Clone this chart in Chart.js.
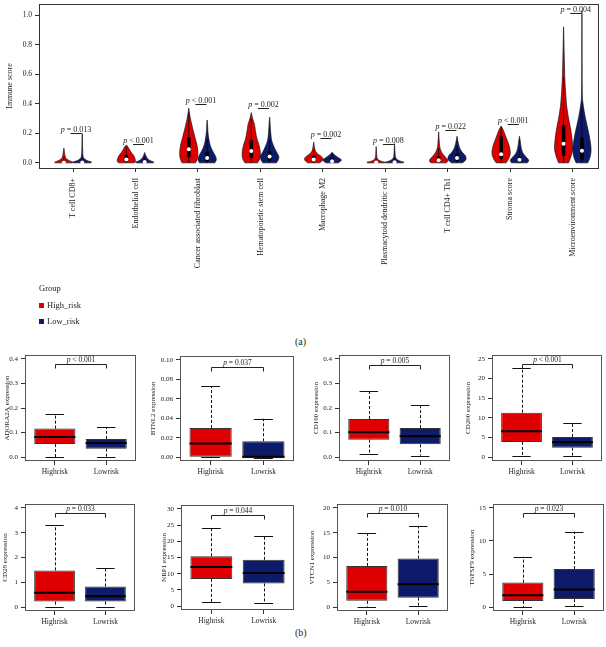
<!DOCTYPE html>
<html><head><meta charset="utf-8">
<script src="https://cdn.jsdelivr.net/npm/chart.js@4.4.1/dist/chart.umd.min.js"></script>
<style>
html,body{margin:0;padding:0;background:#fff;}
body{width:606px;height:647px;position:relative;overflow:hidden;font-family:'Liberation Serif','Times New Roman',serif;color:#222;}
canvas{position:absolute;}
.txt{position:absolute;white-space:nowrap;line-height:1;}
.sq{position:absolute;width:5px;height:5px;}
</style></head>
<body>
<canvas id="violin" width="606" height="285" style="left:0;top:0"></canvas>
<div class="txt" style="left:39px;top:284px;font-size:8.5px">Group</div>
<div class="sq" style="left:39px;top:303px;background:#DE0000"></div>
<div class="txt" style="left:47px;top:301px;font-size:8.5px">High_risk</div>
<div class="sq" style="left:39px;top:319px;background:#0E1B6B"></div>
<div class="txt" style="left:47px;top:317px;font-size:8.5px">Low_risk</div>
<div class="txt" style="left:295px;top:337px;font-size:10px">(a)</div>
<div class="txt" style="left:295px;top:628px;font-size:10px">(b)</div>
<script>
// ---------------- Panel (a) data ----------------
const categories = ['T cell CD8+','Endothelial cell','Cancer associated fibroblast','Hematopoietic stem cell','Macrophage M2','Plasmacytoid dendritic cell','T cell CD4+ Th1','Stroma score','Microenvironment score'];
const groups = ['High_risk','Low_risk'];
const yTicksA = [0,0.2,0.4,0.6,0.8,1.0];
// violin outlines: [immune score, relative half-width]
const highShapes = [
  [[0,0.9],[0.005,1],[0.015,0.6],[0.03,0.25],[0.05,0.12],[0.08,0.05],[0.10,0]],
  [[0,0.85],[0.01,1],[0.03,0.95],[0.05,0.8],[0.07,0.55],[0.09,0.35],[0.11,0.15],[0.12,0.02]],
  [[0,0.75],[0.03,0.95],[0.07,1],[0.12,0.9],[0.18,0.65],[0.24,0.4],[0.3,0.18],[0.34,0.07],[0.37,0]],
  [[0,0.7],[0.03,0.95],[0.07,1],[0.12,0.85],[0.17,0.6],[0.22,0.45],[0.26,0.35],[0.3,0.15],[0.34,0]],
  [[0,0.65],[0.015,0.95],[0.03,1],[0.045,0.8],[0.06,0.45],[0.08,0.2],[0.1,0.1],[0.14,0]],
  [[0,0.95],[0.004,1],[0.01,0.6],[0.02,0.25],[0.035,0.1],[0.06,0.05],[0.11,0]],
  [[0,0.85],[0.01,1],[0.025,0.95],[0.045,0.65],[0.07,0.35],[0.1,0.15],[0.14,0.07],[0.21,0]],
  [[0,0.55],[0.03,0.85],[0.06,1],[0.1,0.95],[0.14,0.75],[0.18,0.5],[0.22,0.25],[0.25,0]],
  [[0,0.55],[0.05,0.85],[0.1,1],[0.15,0.95],[0.22,0.8],[0.3,0.55],[0.38,0.35],[0.45,0.25],[0.55,0.15],[0.65,0.1],[0.78,0.05],[0.92,0]]
];
const lowShapes = [
  [[0,0.95],[0.006,1],[0.015,0.55],[0.03,0.2],[0.05,0.08],[0.1,0.04],[0.2,0]],
  [[0,0.9],[0.005,1],[0.015,0.6],[0.03,0.3],[0.05,0.12],[0.07,0]],
  [[0,0.85],[0.02,1],[0.04,0.95],[0.07,0.7],[0.1,0.45],[0.14,0.25],[0.2,0.1],[0.25,0.05],[0.29,0]],
  [[0,0.75],[0.02,0.95],[0.045,1],[0.08,0.7],[0.12,0.4],[0.16,0.2],[0.22,0.1],[0.27,0.05],[0.31,0]],
  [[0,0.7],[0.012,0.95],[0.022,1],[0.035,0.7],[0.05,0.35],[0.07,0]],
  [[0,0.95],[0.005,1],[0.012,0.6],[0.025,0.25],[0.04,0.1],[0.07,0.05],[0.13,0]],
  [[0,0.6],[0.015,0.9],[0.03,1],[0.05,0.9],[0.07,0.6],[0.1,0.3],[0.14,0.12],[0.18,0]],
  [[0,0.85],[0.01,1],[0.025,0.95],[0.045,0.65],[0.07,0.35],[0.1,0.2],[0.14,0.1],[0.18,0]],
  [[0,0.65],[0.04,0.9],[0.08,1],[0.13,0.95],[0.2,0.75],[0.27,0.5],[0.33,0.3],[0.4,0.12],[0.45,0.05],[0.55,0.02],[0.7,0.01],[1.03,0]]
];
const highQ1     = [0.0,0.008,0.04,0.035,0.012,0.0,0.008,0.03,0.05];
const highMedian = [0.003,0.022,0.092,0.08,0.022,0.003,0.018,0.058,0.129];
const highQ3     = [0.015,0.05,0.17,0.15,0.045,0.01,0.045,0.18,0.25];
const highTop    = [0.04,0.11,0.34,0.3,0.09,0.03,0.1,0.24,0.58];
const lowQ1      = [0.0,0.0,0.012,0.018,0.004,0.0,0.015,0.006,0.025];
const lowMedian  = [0.003,0.006,0.033,0.042,0.011,0.004,0.033,0.02,0.082];
const lowQ3      = [0.012,0.015,0.07,0.075,0.03,0.012,0.06,0.04,0.17];
const lowTop     = [0.03,0.04,0.16,0.16,0.07,0.03,0.12,0.09,0.38];
const pLabelsA   = ['p = 0.013','p < 0.001','p < 0.001','p = 0.002','p = 0.002','p = 0.008','p = 0.022','p < 0.001','p = 0.004'];
const pLineYA    = [0.205,0.125,0.395,0.37,0.17,0.13,0.225,0.265,1.015];

// ---------------- Panel (b) data ----------------
const boxGenes  = ['ADORA2A','BTNL2','CD160','CD200','CD28','NRP1','VTCN1','TNFSF9'];
const boxGroups = ['Highrisk','Lowrisk'];
// [lower whisker, Q1, median, Q3, upper whisker]
const boxHigh = [
  [0.0,0.053,0.082,0.116,0.175],
  [0.0,0.0003,0.014,0.0299,0.0728],
  [0.012,0.071,0.101,0.155,0.27],
  [0.35,3.85,6.6,11.3,22.8],
  [0.02,0.22,0.58,1.48,3.31],
  [1.2,8.4,12.1,15.4,24.1],
  [0.1,1.25,3.1,8.3,14.9],
  [0.0,0.93,1.8,3.7,7.6]
];
const boxLow = [
  [0.002,0.034,0.057,0.074,0.122],
  [-0.0012,-0.0012,0.0003,0.0163,0.0395],
  [0.006,0.052,0.085,0.118,0.213],
  [0.27,2.4,3.75,5.1,8.8],
  [0.02,0.22,0.44,0.83,1.56],
  [1.0,7.0,10.2,14.3,21.7],
  [0.15,1.9,4.6,9.8,16.4],
  [0.15,1.2,2.65,5.75,11.4]
];
const boxYTicks = [
  [0,0.1,0.2,0.3,0.4],
  [0,0.02,0.04,0.06,0.08,0.10],
  [0,0.1,0.2,0.3,0.4],
  [0,5,10,15,20,25],
  [0,1,2,3,4],
  [0,5,10,15,20,25,30],
  [0,5,10,15,20],
  [0,5,10,15]
];
const boxDecimals = [1,2,1,0,0,0,0,0];
const boxPLabels = ['p < 0.001','p = 0.037','p = 0.005','p < 0.001','p = 0.033','p = 0.044','p = 0.010','p = 0.023'];
const boxPY = [0.38,0.093,0.376,23.6,3.78,28.2,19.0,14.25];

// ---------------- styling / layout ----------------
const RED = '#DE0000', BLUE = '#0E1B6B';
const SERIF = "'Liberation Serif','Times New Roman',serif";
const INK = '#222';
const boxFrames = [
  {l:25,t:355,r:136,b:461,tx:7.5},
  {l:180,t:356,r:294,b:461,tx:153},
  {l:339,t:355,r:450,b:461,tx:316},
  {l:492,t:355,r:602,b:461,tx:468},
  {l:25,t:504,r:135,b:611,tx:5.5},
  {l:181,t:505,r:294,b:610,tx:164},
  {l:337,t:504,r:448,b:611,tx:312},
  {l:493,t:504,r:604,b:611,tx:472}
];
const noPad = s => { s.paddingTop = 0; s.paddingBottom = 0; s.paddingLeft = 0; s.paddingRight = 0; };

function drawPText(ctx, label, cx, baseY, size) {
  const rest = label.slice(1);
  ctx.font = 'italic ' + size + 'px ' + SERIF;
  const w1 = ctx.measureText('p').width;
  ctx.font = size + 'px ' + SERIF;
  const w2 = ctx.measureText(rest).width;
  let x0 = cx - (w1 + w2) / 2;
  ctx.fillStyle = INK;
  ctx.textAlign = 'left';
  ctx.textBaseline = 'alphabetic';
  ctx.font = 'italic ' + size + 'px ' + SERIF;
  ctx.fillText('p', x0, baseY);
  ctx.font = size + 'px ' + SERIF;
  ctx.fillText(rest, x0 + w1, baseY);
}

function smoothShape(shape) {
  const out = [], n = shape.length;
  for (let i = 0; i < n - 1; i++) {
    const p0 = shape[Math.max(i-1,0)], p1 = shape[i], p2 = shape[i+1], p3 = shape[Math.min(i+2,n-1)];
    for (let s = 0; s < 8; s++) {
      const t = s/8, t2 = t*t, t3 = t2*t;
      const f = (a,b,c,d) => 0.5*((2*b)+(-a+c)*t+(2*a-5*b+4*c-d)*t2+(-a+3*b-3*c+d)*t3);
      out.push([f(p0[0],p1[0],p2[0],p3[0]), Math.max(0, f(p0[1],p1[1],p2[1],p3[1]))]);
    }
  }
  out.push(shape[n-1]);
  return out;
}

const DODGE = 0.147, HALFW = 0.145;

const violinPlugin = {
  id: 'violins',
  beforeDatasetsDraw(chart) {
    const {ctx, scales: {x, y}} = chart;
    ctx.save();
    const drawViolin = (shape, cx, color) => {
      const pts = smoothShape(shape);
      ctx.beginPath();
      pts.forEach(([v, w], k) => {
        const px = x.getPixelForValue(cx + w*HALFW), py = y.getPixelForValue(v);
        k ? ctx.lineTo(px, py) : ctx.moveTo(px, py);
      });
      for (let k = pts.length - 1; k >= 0; k--) {
        const [v, w] = pts[k];
        ctx.lineTo(x.getPixelForValue(cx - w*HALFW), y.getPixelForValue(v));
      }
      ctx.closePath();
      ctx.fillStyle = color; ctx.fill();
      ctx.lineWidth = 0.7; ctx.strokeStyle = '#111'; ctx.stroke();
    };
    const drawWhisker = (cx, lo, hi) => {
      ctx.beginPath();
      ctx.moveTo(x.getPixelForValue(cx), y.getPixelForValue(lo));
      ctx.lineTo(x.getPixelForValue(cx), y.getPixelForValue(hi));
      ctx.lineWidth = 0.8; ctx.strokeStyle = '#000'; ctx.stroke();
    };
    categories.forEach((c, i) => {
      drawViolin(highShapes[i], i - DODGE, RED);
      drawViolin(lowShapes[i], i + DODGE, BLUE);
      drawWhisker(i - DODGE, highShapes[i][0][0], highTop[i]);
      drawWhisker(i + DODGE, lowShapes[i][0][0], lowTop[i]);
    });
    ctx.restore();
  },
  afterDatasetsDraw(chart) {
    const {ctx, chartArea: a, scales: {x, y}} = chart;
    ctx.save();
    categories.forEach((c, i) => {
      const cx = x.getPixelForValue(i) + 3;
      const ly = Math.round(y.getPixelForValue(pLineYA[i])) + 0.5;
      ctx.beginPath();
      ctx.moveTo(cx - 5.5, ly); ctx.lineTo(cx + 5.5, ly);
      ctx.lineWidth = 1; ctx.strokeStyle = '#222'; ctx.stroke();
      drawPText(ctx, pLabelsA[i], cx, ly - 1.5, 8);
    });
    ctx.lineWidth = 1; ctx.strokeStyle = '#333';
    ctx.strokeRect(Math.round(a.left) + 0.5, Math.round(a.top) + 0.5, Math.round(a.right - a.left) - 1, Math.round(a.bottom - a.top));
    ctx.restore();
  }
};

new Chart(document.getElementById('violin'), {
  type: 'bar',
  data: {
    datasets: [
      { type: 'scatter', label: groups[0] + ' median', data: categories.map((c,i) => ({x: i - DODGE, y: highMedian[i]})),
        pointRadius: 2, pointBackgroundColor: '#fff', pointBorderWidth: 0, order: 0 },
      { type: 'scatter', label: groups[1] + ' median', data: categories.map((c,i) => ({x: i + DODGE, y: lowMedian[i]})),
        pointRadius: 2, pointBackgroundColor: '#fff', pointBorderWidth: 0, order: 0 },
      { type: 'bar', label: groups[0], data: categories.map((c,i) => ({x: i - DODGE, y: [highQ1[i], highQ3[i]]})),
        backgroundColor: '#000', barThickness: 3, grouped: false, borderWidth: 0, order: 1 },
      { type: 'bar', label: groups[1], data: categories.map((c,i) => ({x: i + DODGE, y: [lowQ1[i], lowQ3[i]]})),
        backgroundColor: '#000', barThickness: 3, grouped: false, borderWidth: 0, order: 1 }
    ]
  },
  options: {
    responsive: false, animation: false, events: [],
    layout: { padding: { top: 1, right: 7, left: 0, bottom: 0 } },
    plugins: { legend: { display: false }, tooltip: { enabled: false } },
    scales: {
      x: {
        type: 'linear', min: -0.545, max: 8.42, offset: false,
        afterBuildTicks: s => { s.ticks = categories.map((c,i) => ({ value: i })); },
        afterFit: s => { s.height = 117; noPad(s); },
        grid: { display: true, offset: false, drawOnChartArea: false, drawTicks: true, tickLength: 4, color: '#333' },
        border: { display: false },
        ticks: { autoSkip: false, minRotation: 90, maxRotation: 90, padding: 6, color: INK,
                 font: { family: SERIF, size: 8 }, callback: v => categories[v] }
      },
      y: {
        type: 'linear', min: -0.035, max: 1.075,
        afterBuildTicks: s => { s.ticks = yTicksA.map(v => ({ value: v })); },
        afterFit: s => { s.width = 39; noPad(s); },
        grid: { display: true, drawOnChartArea: false, drawTicks: true, tickLength: 4, color: '#333' },
        border: { display: false },
        ticks: { padding: 3, color: INK, font: { family: SERIF, size: 7.5 }, callback: v => v.toFixed(1) },
        title: { display: true, text: 'Immune score', color: INK, font: { family: SERIF, size: 8 }, padding: { top: 5, bottom: 0 } }
      }
    }
  },
  plugins: [violinPlugin]
});

// ---------------- Panel (b) box plots ----------------
const boxPlugin = {
  id: 'boxparts',
  afterDatasetsDraw(chart) {
    const {ctx, chartArea: a, scales: {x, y}} = chart;
    const gi = chart.options.plugins.boxparts.index;
    ctx.save();
    [boxHigh[gi], boxLow[gi]].forEach((st, k) => {
      const cx = x.getPixelForValue(k + 1);
      const px = Math.round(cx) + 0.5;
      const [lo, q1, med, q3, hi] = st;
      ctx.strokeStyle = '#111'; ctx.lineWidth = 1;
      ctx.setLineDash([3, 2]);
      ctx.beginPath();
      ctx.moveTo(px, y.getPixelForValue(q3)); ctx.lineTo(px, y.getPixelForValue(hi));
      ctx.moveTo(px, y.getPixelForValue(q1)); ctx.lineTo(px, y.getPixelForValue(lo));
      ctx.stroke();
      ctx.setLineDash([]);
      const cw = x.getPixelForValue(1.18) - x.getPixelForValue(1);
      ctx.beginPath();
      [hi, lo].forEach(v => { const py = Math.round(y.getPixelForValue(v)) + 0.5; ctx.moveTo(cx - cw, py); ctx.lineTo(cx + cw, py); });
      ctx.stroke();
      const bw = x.getPixelForValue(1.4) - x.getPixelForValue(1);
      ctx.beginPath();
      const my = y.getPixelForValue(med);
      ctx.moveTo(cx - bw, my); ctx.lineTo(cx + bw, my);
      ctx.lineWidth = 2; ctx.strokeStyle = '#000'; ctx.stroke();
    });
    // p-value bracket
    const by = Math.round(y.getPixelForValue(boxPY[gi])) + 0.5;
    const x1 = Math.round(x.getPixelForValue(1)) + 0.5, x2 = Math.round(x.getPixelForValue(2)) + 0.5;
    ctx.beginPath();
    ctx.moveTo(x1, by + 4); ctx.lineTo(x1, by); ctx.lineTo(x2, by); ctx.lineTo(x2, by + 4);
    ctx.lineWidth = 1; ctx.strokeStyle = '#222'; ctx.stroke();
    drawPText(ctx, boxPLabels[gi], (x1 + x2) / 2, by - 2.5, 7.5);
    // frame
    ctx.strokeStyle = '#555'; ctx.lineWidth = 1;
    ctx.strokeRect(Math.round(a.left) + 0.5, Math.round(a.top) + 0.5, Math.round(a.right - a.left) - 1, Math.round(a.bottom - a.top) - 1);
    ctx.restore();
  }
};

boxGenes.forEach((gene, gi) => {
  const f = boxFrames[gi];
  const left = Math.floor(f.tx - 4.2);
  const top = f.t - 2;
  const W = f.r - left + 2, H = f.b - top + 20;
  const cv = document.createElement('canvas');
  cv.width = W; cv.height = H;
  cv.style.left = left + 'px'; cv.style.top = top + 'px';
  document.body.appendChild(cv);
  const ymax = boxYTicks[gi][boxYTicks[gi].length - 1];
  const yW = f.l - left;
  new Chart(cv, {
    type: 'bar',
    data: {
      datasets: [{
        label: gene + ' expression',
        data: boxGroups.map((g, k) => ({ x: k + 1, y: [ (k ? boxLow : boxHigh)[gi][1], (k ? boxLow : boxHigh)[gi][3] ] })),
        backgroundColor: [RED, BLUE], borderColor: '#333', borderWidth: 1, borderSkipped: false,
        barPercentage: 0.8, categoryPercentage: 1.0
      }]
    },
    options: {
      responsive: false, animation: false, events: [],
      layout: { padding: { top: 2, right: 2, left: 0, bottom: 0 } },
      plugins: { legend: { display: false }, tooltip: { enabled: false }, boxparts: { index: gi } },
      scales: {
        x: {
          type: 'linear', min: 0.42, max: 2.58, offset: false,
          afterBuildTicks: s => { s.ticks = boxGroups.map((g, k) => ({ value: k + 1 })); },
          afterFit: s => { s.height = 20; noPad(s); },
          grid: { display: true, offset: false, drawOnChartArea: false, drawTicks: true, tickLength: 4, color: '#333' },
          border: { display: false },
          ticks: { autoSkip: false, maxRotation: 0, minRotation: 0, padding: 3, color: INK,
                   font: { family: SERIF, size: 7.5 }, callback: v => boxGroups[v - 1] }
        },
        y: {
          type: 'linear', min: -0.04 * ymax, max: 1.04 * ymax,
          afterBuildTicks: s => { s.ticks = boxYTicks[gi].map(v => ({ value: v })); },
          afterFit: s => { s.width = yW; noPad(s); },
          grid: { display: true, drawOnChartArea: false, drawTicks: true, tickLength: 4, color: '#333' },
          border: { display: false },
          ticks: { padding: 3, color: INK, font: { family: SERIF, size: 7 }, callback: v => v.toFixed(boxDecimals[gi]) },
          title: { display: true, text: gene + ' expression', color: INK, font: { family: SERIF, size: 7 },
                   padding: { top: f.tx - 4.2 - left, bottom: 0 } }
        }
      }
    },
    plugins: [boxPlugin]
  });
});
</script>
</body></html>
